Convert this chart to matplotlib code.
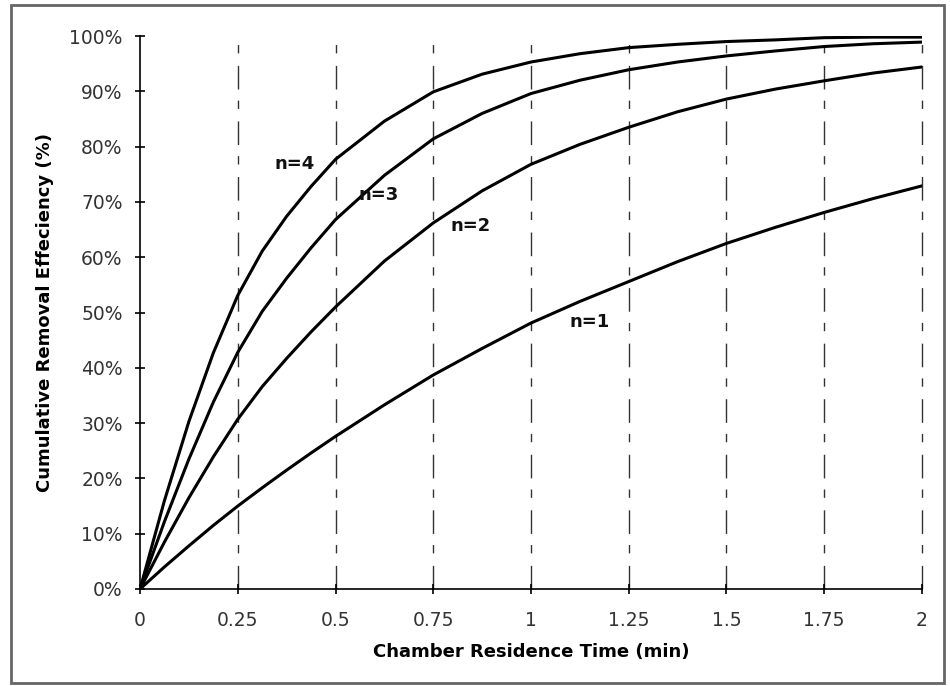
import matplotlib
matplotlib.use("Agg")
import matplotlib.pyplot as plt
from matplotlib.patches import Rectangle

# residence time (min)
t = [0, 0.0625, 0.125, 0.1875, 0.25, 0.3125, 0.375, 0.4375, 0.5, 0.625, 0.75, 0.875,
     1.0, 1.125, 1.25, 1.375, 1.5, 1.625, 1.75, 1.875, 2.0]

# cumulative removal efficiency (%)
n1 = [0, 4.0, 7.8, 11.5, 15.0, 18.3, 21.5, 24.6, 27.6, 33.3, 38.7, 43.5,
      48.1, 52.0, 55.6, 59.2, 62.5, 65.4, 68.1, 70.6, 72.9]
n2 = [0, 8.5, 16.5, 23.9, 30.7, 36.6, 41.7, 46.5, 51.0, 59.3, 66.2, 72.0,
      76.8, 80.4, 83.5, 86.3, 88.6, 90.4, 91.9, 93.3, 94.4]
n3 = [0, 12.2, 23.5, 33.8, 42.8, 50.2, 56.2, 61.7, 66.8, 74.8, 81.4, 86.0,
      89.6, 92.0, 93.9, 95.3, 96.4, 97.3, 98.1, 98.6, 98.9]
n4 = [0, 16.0, 30.3, 42.7, 53.1, 61.1, 67.4, 72.8, 77.7, 84.6, 89.9, 93.1,
      95.3, 96.8, 97.9, 98.5, 99.0, 99.3, 99.7, 99.8, 99.8]

labels = ["n=1", "n=2", "n=3", "n=4"]
label_pos = [(1.15, 48.3), (0.845, 65.6), (0.61, 71.2), (0.395, 76.9)]

x_ticks = [0, 0.25, 0.5, 0.75, 1.0, 1.25, 1.5, 1.75, 2.0]
x_ticklabels = ["0", "0.25", "0.5", "0.75", "1", "1.25", "1.5", "1.75", "2"]
y_ticks = list(range(0, 101, 10))

plt.rcParams['font.family'] = ['DejaVu Sans']

fig = plt.figure(figsize=(9.5, 6.86), dpi=100)
ax = fig.add_axes([0.1474, 0.1414, 0.8231, 0.8061])

for series in [n1, n2, n3, n4]:
    ax.plot(t, series, color='black', lw=2.2, solid_joinstyle='round', zorder=3)

for lab, (x, y) in zip(labels, label_pos):
    ax.text(x, y, lab, fontsize=13, fontweight='bold', ha='center', va='center', color='#111111')

ax.set_xlim(0, 2)
ax.set_ylim(0, 100)
ax.set_xticks(x_ticks)
ax.set_xticklabels(x_ticklabels)
ax.set_yticks(y_ticks)
ax.set_yticklabels([f"{v}%" for v in y_ticks])

for gx in x_ticks[1:]:
    ax.axvline(gx, color='#333333', lw=1, linestyle=(0, (17, 9, 6, 8)), zorder=1, clip_on=False)

for side in ['top', 'right']:
    ax.spines[side].set_visible(False)
ax.spines['left'].set_linewidth(1.2)
ax.spines['bottom'].set_linewidth(1.2)
ax.tick_params(direction='inout', length=7, width=1.2, labelsize=13.5, labelcolor='#333333')
ax.tick_params(axis='x', pad=12)
ax.tick_params(axis='y', pad=9)

ax.set_xlabel('Chamber Residence Time (min)', fontsize=13, fontweight='bold', labelpad=10)
ax.set_ylabel('Cumulative Removal Effeciency (%)', fontsize=13, fontweight='bold', labelpad=11)

# outer border around the chart
fig.patches.append(Rectangle((11 / 950, 3 / 686), 933 / 950, 678 / 686, transform=fig.transFigure,
                             fill=False, edgecolor='#666666', lw=2))

fig.savefig('out.png', dpi=100)
